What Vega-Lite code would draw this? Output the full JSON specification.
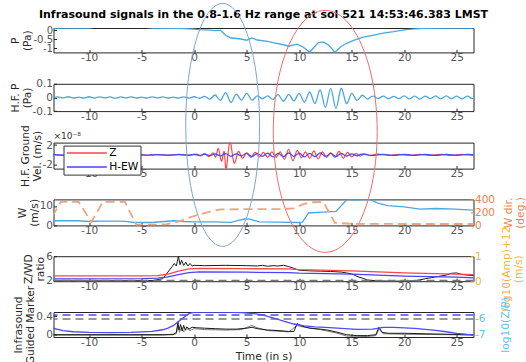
{
 "$schema": "https://vega.github.io/schema/vega-lite/v6.json",
 "padding": {"left": 8.5, "top": 0, "right": 0, "bottom": 0},
 "spacing": 30.8,
 "bounds": "flush",
 "resolve": {"scale": {"x": "independent", "y": "independent", "color": "independent"}},
 "datasets": {
  "p": [{"t":-13.5,"v":0.11},{"t":-12,"v":0.11},{"t":-10.5,"v":0.11},{"t":-10,"v":0.12},{"t":-9,"v":0.2},{"t":-7,"v":0.22},{"t":-5,"v":0.18},{"t":-4,"v":0.11},{"t":-2,"v":0.1},{"t":-1,"v":0.09},{"t":0,"v":0.06},{"t":0.5,"v":0.03},{"t":1,"v":0.02},{"t":1.5,"v":0.0},{"t":2,"v":-0.02},{"t":2.5,"v":0.0},{"t":3,"v":-0.28},{"t":3.5,"v":-0.43},{"t":4.3,"v":-0.47},{"t":5,"v":-0.55},{"t":5.5,"v":-0.43},{"t":6,"v":-0.54},{"t":7,"v":-0.62},{"t":7.5,"v":-0.68},{"t":8.5,"v":-0.8},{"t":9,"v":-0.88},{"t":9.8,"v":-0.77},{"t":10.3,"v":-0.9},{"t":11,"v":-1.2},{"t":11.4,"v":-0.95},{"t":11.8,"v":-0.7},{"t":12.3,"v":-0.64},{"t":12.8,"v":-0.82},{"t":13.4,"v":-1.21},{"t":14,"v":-0.9},{"t":14.5,"v":-0.72},{"t":15.2,"v":-0.56},{"t":16,"v":-0.4},{"t":17,"v":-0.28},{"t":18,"v":-0.16},{"t":19,"v":-0.08},{"t":20,"v":0.02},{"t":21,"v":0.07},{"t":22,"v":0.1},{"t":24,"v":0.11},{"t":27,"v":0.11}],
  "hfp": [{"t":-13.5,"v":-0.004},{"t":-13,"v":0.004},{"t":-12.5,"v":-0.003},{"t":-12,"v":0.005},{"t":-11.5,"v":-0.004},{"t":-11,"v":0.003},{"t":-10.5,"v":-0.004},{"t":-10,"v":0.005},{"t":-9.5,"v":-0.004},{"t":-9,"v":0.004},{"t":-8.5,"v":-0.003},{"t":-8,"v":0.004},{"t":-7.5,"v":-0.005},{"t":-7,"v":0.004},{"t":-6.5,"v":-0.003},{"t":-6,"v":0.004},{"t":-5.5,"v":-0.004},{"t":-5,"v":0.003},{"t":-4.5,"v":-0.004},{"t":-4,"v":0.004},{"t":-3.5,"v":-0.003},{"t":-3,"v":0.004},{"t":-2.5,"v":-0.004},{"t":-2,"v":0.003},{"t":-1.5,"v":-0.004},{"t":-1,"v":0.004},{"t":-0.5,"v":-0.004},{"t":0,"v":0.005},{"t":0.5,"v":-0.006},{"t":1,"v":0.008},{"t":1.5,"v":-0.012},{"t":2,"v":0.018},{"t":2.5,"v":-0.022},{"t":3,"v":0.035},{"t":3.5,"v":-0.037},{"t":4,"v":0.025},{"t":4.5,"v":-0.02},{"t":5,"v":0.03},{"t":5.5,"v":-0.02},{"t":6,"v":0.012},{"t":6.5,"v":-0.01},{"t":7,"v":0.012},{"t":7.5,"v":-0.014},{"t":8,"v":0.02},{"t":8.5,"v":-0.028},{"t":9,"v":0.022},{"t":9.5,"v":-0.025},{"t":10,"v":0.03},{"t":10.5,"v":-0.035},{"t":11,"v":0.04},{"t":11.5,"v":-0.045},{"t":12,"v":0.055},{"t":12.5,"v":-0.073},{"t":13,"v":0.066},{"t":13.5,"v":-0.08},{"t":14,"v":0.066},{"t":14.5,"v":-0.045},{"t":15,"v":0.03},{"t":15.5,"v":-0.022},{"t":16,"v":0.016},{"t":16.5,"v":-0.012},{"t":17,"v":0.01},{"t":17.5,"v":-0.008},{"t":18,"v":0.009},{"t":18.5,"v":-0.01},{"t":19,"v":0.008},{"t":19.5,"v":-0.009},{"t":20,"v":0.011},{"t":20.5,"v":-0.01},{"t":21,"v":0.009},{"t":21.5,"v":-0.012},{"t":22,"v":0.01},{"t":22.5,"v":-0.009},{"t":23,"v":0.011},{"t":23.5,"v":-0.01},{"t":24,"v":0.012},{"t":24.5,"v":-0.01},{"t":25,"v":0.009},{"t":25.5,"v":-0.011},{"t":26,"v":0.01},{"t":26.5,"v":-0.009},{"t":27,"v":0.005}],
  "gv": [{"c":"Z","t":-13.5,"v":0.08},{"c":"Z","t":-12.5,"v":-0.08},{"c":"Z","t":-11.5,"v":0.1},{"c":"Z","t":-10.5,"v":-0.06},{"c":"Z","t":-9.5,"v":0.08},{"c":"Z","t":-8.5,"v":-0.1},{"c":"Z","t":-7.5,"v":0.06},{"c":"Z","t":-6.5,"v":-0.08},{"c":"Z","t":-5.5,"v":0.1},{"c":"Z","t":-4.5,"v":-0.08},{"c":"Z","t":-3.5,"v":0.06},{"c":"Z","t":-2.5,"v":-0.1},{"c":"Z","t":-1.5,"v":0.08},{"c":"Z","t":-0.5,"v":-0.1},{"c":"Z","t":0.2,"v":0.15},{"c":"Z","t":0.6,"v":-0.2},{"c":"Z","t":1.0,"v":0.25},{"c":"Z","t":1.4,"v":-0.35},{"c":"Z","t":1.8,"v":0.4},{"c":"Z","t":2.05,"v":-0.45},{"c":"Z","t":2.3,"v":1.3},{"c":"Z","t":2.6,"v":-1.3},{"c":"Z","t":2.85,"v":0.7},{"c":"Z","t":3.05,"v":-2.9},{"c":"Z","t":3.4,"v":2.7},{"c":"Z","t":3.8,"v":-1.7},{"c":"Z","t":4.2,"v":0.7},{"c":"Z","t":4.6,"v":-0.7},{"c":"Z","t":5.0,"v":0.4},{"c":"Z","t":5.4,"v":-0.5},{"c":"Z","t":5.8,"v":0.5},{"c":"Z","t":6.2,"v":-0.4},{"c":"Z","t":6.6,"v":0.5},{"c":"Z","t":7.0,"v":-0.5},{"c":"Z","t":7.4,"v":0.6},{"c":"Z","t":7.8,"v":-0.5},{"c":"Z","t":8.2,"v":0.6},{"c":"Z","t":8.6,"v":-0.9},{"c":"Z","t":9.0,"v":1.1},{"c":"Z","t":9.4,"v":-1.2},{"c":"Z","t":9.8,"v":0.9},{"c":"Z","t":10.2,"v":-0.6},{"c":"Z","t":10.6,"v":0.6},{"c":"Z","t":11.0,"v":-0.7},{"c":"Z","t":11.4,"v":0.8},{"c":"Z","t":11.8,"v":-0.8},{"c":"Z","t":12.2,"v":0.6},{"c":"Z","t":12.6,"v":-0.5},{"c":"Z","t":13.0,"v":0.4},{"c":"Z","t":13.4,"v":-0.5},{"c":"Z","t":13.8,"v":0.7},{"c":"Z","t":14.2,"v":-0.7},{"c":"Z","t":14.6,"v":0.5},{"c":"Z","t":15.0,"v":-0.4},{"c":"Z","t":15.4,"v":0.3},{"c":"Z","t":15.8,"v":-0.25},{"c":"Z","t":16.2,"v":0.2},{"c":"Z","t":16.8,"v":-0.15},{"c":"Z","t":17.5,"v":0.15},{"c":"Z","t":18.5,"v":-0.12},{"c":"Z","t":19.5,"v":0.1},{"c":"Z","t":20.5,"v":-0.1},{"c":"Z","t":21.5,"v":0.12},{"c":"Z","t":22.5,"v":-0.1},{"c":"Z","t":23.5,"v":0.1},{"c":"Z","t":24.5,"v":-0.12},{"c":"Z","t":25.5,"v":0.1},{"c":"Z","t":26.5,"v":-0.1},{"c":"Z","t":27,"v":0.05},
   {"c":"H-EW","t":-13.5,"v":0.05},{"c":"H-EW","t":-12.5,"v":-0.05},{"c":"H-EW","t":-11.5,"v":0.06},{"c":"H-EW","t":-10.5,"v":-0.05},{"c":"H-EW","t":-9.5,"v":0.05},{"c":"H-EW","t":-8.5,"v":-0.06},{"c":"H-EW","t":-7.5,"v":0.05},{"c":"H-EW","t":-6.5,"v":-0.05},{"c":"H-EW","t":-5.5,"v":0.06},{"c":"H-EW","t":-4.5,"v":-0.05},{"c":"H-EW","t":-3.5,"v":0.05},{"c":"H-EW","t":-2.5,"v":-0.06},{"c":"H-EW","t":-1.5,"v":0.05},{"c":"H-EW","t":-0.5,"v":-0.06},{"c":"H-EW","t":0,"v":0.1},{"c":"H-EW","t":0.5,"v":-0.12},{"c":"H-EW","t":1.0,"v":0.15},{"c":"H-EW","t":1.5,"v":-0.15},{"c":"H-EW","t":2.0,"v":0.2},{"c":"H-EW","t":2.5,"v":-0.2},{"c":"H-EW","t":3.0,"v":0.25},{"c":"H-EW","t":3.5,"v":-0.3},{"c":"H-EW","t":4.0,"v":0.2},{"c":"H-EW","t":4.5,"v":-0.2},{"c":"H-EW","t":5.0,"v":0.3},{"c":"H-EW","t":5.5,"v":-0.35},{"c":"H-EW","t":6.0,"v":0.3},{"c":"H-EW","t":6.5,"v":-0.3},{"c":"H-EW","t":7.0,"v":0.35},{"c":"H-EW","t":7.5,"v":-0.4},{"c":"H-EW","t":8.0,"v":0.3},{"c":"H-EW","t":8.5,"v":-0.35},{"c":"H-EW","t":9.0,"v":0.4},{"c":"H-EW","t":9.5,"v":-0.3},{"c":"H-EW","t":10.0,"v":0.35},{"c":"H-EW","t":10.5,"v":-0.4},{"c":"H-EW","t":11.0,"v":0.3},{"c":"H-EW","t":11.5,"v":-0.35},{"c":"H-EW","t":12.0,"v":0.4},{"c":"H-EW","t":12.5,"v":-0.3},{"c":"H-EW","t":13.0,"v":0.3},{"c":"H-EW","t":13.5,"v":-0.35},{"c":"H-EW","t":14.0,"v":0.3},{"c":"H-EW","t":14.5,"v":-0.25},{"c":"H-EW","t":15.0,"v":0.2},{"c":"H-EW","t":15.5,"v":-0.2},{"c":"H-EW","t":16.0,"v":0.15},{"c":"H-EW","t":17,"v":-0.12},{"c":"H-EW","t":18,"v":0.12},{"c":"H-EW","t":19,"v":-0.1},{"c":"H-EW","t":20,"v":0.12},{"c":"H-EW","t":21,"v":-0.1},{"c":"H-EW","t":22,"v":0.1},{"c":"H-EW","t":23,"v":-0.12},{"c":"H-EW","t":24,"v":0.1},{"c":"H-EW","t":25,"v":-0.1},{"c":"H-EW","t":26,"v":0.1},{"c":"H-EW","t":27,"v":-0.05}],
  "w": [{"t":-13.5,"v":2.4},{"t":-12,"v":2.5},{"t":-11,"v":2.4},{"t":-10,"v":2.0},{"t":-9,"v":2.2},{"t":-7.5,"v":2.2},{"t":-6.5,"v":2.1},{"t":-5.8,"v":1.5},{"t":-4,"v":1.5},{"t":-2,"v":2.4},{"t":-1,"v":2.0},{"t":0,"v":1.8},{"t":2,"v":1.8},{"t":3.5,"v":1.6},{"t":4.2,"v":2.6},{"t":4.8,"v":3.3},{"t":5.3,"v":3.2},{"t":6.2,"v":1.8},{"t":8,"v":1.7},{"t":9.8,"v":1.5},{"t":10.3,"v":1.7},{"t":10.9,"v":6.4},{"t":12.2,"v":6.8},{"t":13.5,"v":7.2},{"t":14.6,"v":13.6},{"t":15.2,"v":13.0},{"t":16.6,"v":13.6},{"t":17.5,"v":11.5},{"t":18.4,"v":10.2},{"t":20,"v":9.6},{"t":21.5,"v":8.4},{"t":23,"v":8.7},{"t":24.8,"v":8.4},{"t":26.6,"v":7.9},{"t":27,"v":7.8}],
  "wd": [{"t":-13.5,"v":140},{"t":-12.7,"v":365},{"t":-11,"v":365},{"t":-9.8,"v":55},{"t":-8.7,"v":365},{"t":-6.6,"v":365},{"t":-5.5,"v":8},{"t":-2.7,"v":15},{"t":-1.5,"v":60},{"t":-0.5,"v":120},{"t":0.5,"v":170},{"t":1.5,"v":215},{"t":2.5,"v":250},{"t":5,"v":252},{"t":8,"v":255},{"t":9.6,"v":265},{"t":10.2,"v":320},{"t":11,"v":360},{"t":12.3,"v":365},{"t":13.4,"v":40},{"t":15,"v":25},{"t":20,"v":22},{"t":27,"v":22}],
  "ellb": [{"i":0,"t":6.23,"v":51.8},{"i":1,"t":6.11,"v":68.01},{"i":2,"t":5.76,"v":83.11},{"i":3,"t":5.2,"v":96.08},{"i":4,"t":4.47,"v":106.03},{"i":5,"t":3.62,"v":112.29},{"i":6,"t":2.71,"v":114.42},{"i":7,"t":1.8,"v":112.29},{"i":8,"t":0.95,"v":106.03},{"i":9,"t":0.22,"v":96.08},{"i":10,"t":-0.34,"v":83.11},{"i":11,"t":-0.69,"v":68.01},{"i":12,"t":-0.81,"v":51.8},{"i":13,"t":-0.69,"v":35.59},{"i":14,"t":-0.34,"v":20.49},{"i":15,"t":0.22,"v":7.52},{"i":16,"t":0.95,"v":-2.43},{"i":17,"t":1.8,"v":-8.69},{"i":18,"t":2.71,"v":-10.82},{"i":19,"t":3.62,"v":-8.69},{"i":20,"t":4.47,"v":-2.43},{"i":21,"t":5.2,"v":7.52},{"i":22,"t":5.76,"v":20.49},{"i":23,"t":6.11,"v":35.59}],
  "ellr": [{"i":0,"t":17.43,"v":48.45},{"i":1,"t":17.26,"v":64.59},{"i":2,"t":16.77,"v":79.63},{"i":3,"t":15.98,"v":92.55},{"i":4,"t":14.96,"v":102.45},{"i":5,"t":13.76,"v":108.69},{"i":6,"t":12.48,"v":110.81},{"i":7,"t":11.2,"v":108.69},{"i":8,"t":10.01,"v":102.45},{"i":9,"t":8.98,"v":92.55},{"i":10,"t":8.19,"v":79.63},{"i":11,"t":7.7,"v":64.59},{"i":12,"t":7.53,"v":48.45},{"i":13,"t":7.7,"v":32.31},{"i":14,"t":8.19,"v":17.27},{"i":15,"t":8.98,"v":4.35},{"i":16,"t":10.01,"v":-5.55},{"i":17,"t":11.2,"v":-11.79},{"i":18,"t":12.48,"v":-13.91},{"i":19,"t":13.76,"v":-11.79},{"i":20,"t":14.96,"v":-5.55},{"i":21,"t":15.98,"v":4.35},{"i":22,"t":16.77,"v":17.27},{"i":23,"t":17.26,"v":32.31}],
  "ratio": [{"t":-13.5,"v":1.95},{"t":-10,"v":1.95},{"t":-6,"v":1.97},{"t":-4,"v":2.0},{"t":-3,"v":2.3},{"t":-2.5,"v":3.4},{"t":-2.1,"v":4.3},{"t":-1.9,"v":4.8},{"t":-1.7,"v":4.4},{"t":-1.5,"v":6.0},{"t":-1.35,"v":4.6},{"t":-1.2,"v":5.3},{"t":-1.0,"v":4.5},{"t":-0.8,"v":5.0},{"t":-0.6,"v":4.4},{"t":-0.4,"v":4.8},{"t":-0.2,"v":4.4},{"t":0,"v":4.5},{"t":1,"v":4.45},{"t":3,"v":4.5},{"t":5,"v":4.45},{"t":6,"v":4.4},{"t":6.5,"v":4.5},{"t":7,"v":4.35},{"t":7.5,"v":4.45},{"t":8,"v":4.4},{"t":8.5,"v":4.5},{"t":9,"v":4.3},{"t":9.5,"v":4.0},{"t":10,"v":3.7},{"t":11,"v":3.6},{"t":12,"v":3.55},{"t":13,"v":3.5},{"t":14,"v":3.4},{"t":15,"v":3.1},{"t":15.5,"v":2.7},{"t":16,"v":2.4},{"t":16.5,"v":2.1},{"t":17.5,"v":1.95},{"t":19,"v":1.9},{"t":21,"v":1.95},{"t":22,"v":2.3},{"t":23,"v":2.6},{"t":24,"v":2.9},{"t":24.5,"v":3.2},{"t":25,"v":3.25},{"t":25.5,"v":3.0},{"t":26,"v":2.9},{"t":27,"v":2.8}],
  "ampz": [{"t":-13.5,"v":0.21},{"t":-5,"v":0.21},{"t":-3.5,"v":0.22},{"t":-2.5,"v":0.28},{"t":-1.5,"v":0.4},{"t":-0.5,"v":0.49},{"t":0.5,"v":0.51},{"t":5,"v":0.5},{"t":9,"v":0.49},{"t":10,"v":0.46},{"t":15,"v":0.41},{"t":20,"v":0.33},{"t":25,"v":0.28},{"t":27,"v":0.26}],
  "ampw": [{"t":-13.5,"v":0.09},{"t":-5,"v":0.1},{"t":-3.5,"v":0.12},{"t":-2.5,"v":0.17},{"t":-1.5,"v":0.26},{"t":-0.5,"v":0.34},{"t":0.5,"v":0.37},{"t":5,"v":0.36},{"t":9,"v":0.34},{"t":10,"v":0.32},{"t":15,"v":0.28},{"t":20,"v":0.2},{"t":25,"v":0.16},{"t":27,"v":0.13}],
  "zp": [{"t":-13.5,"v":-6.6},{"t":-12.5,"v":-6.75},{"t":-11.5,"v":-6.82},{"t":-10,"v":-6.86},{"t":-8,"v":-6.87},{"t":-6,"v":-6.86},{"t":-4,"v":-6.8},{"t":-3,"v":-6.7},{"t":-2.5,"v":-6.6},{"t":-2,"v":-6.45},{"t":-1.5,"v":-6.2},{"t":-1,"v":-5.95},{"t":-0.5,"v":-5.72},{"t":0,"v":-5.63},{"t":1,"v":-5.62},{"t":3,"v":-5.62},{"t":4.5,"v":-5.65},{"t":5.5,"v":-5.7},{"t":6.5,"v":-5.8},{"t":7.5,"v":-5.97},{"t":8.5,"v":-6.18},{"t":9.5,"v":-6.35},{"t":10.5,"v":-6.46},{"t":11.5,"v":-6.52},{"t":12.5,"v":-6.56},{"t":14,"v":-6.62},{"t":15.5,"v":-6.68},{"t":17,"v":-6.66},{"t":18,"v":-6.56},{"t":19,"v":-6.55},{"t":20,"v":-6.58},{"t":21,"v":-6.62},{"t":22,"v":-6.68},{"t":23,"v":-6.74},{"t":24,"v":-6.82},{"t":25,"v":-6.92},{"t":26,"v":-6.98},{"t":27,"v":-7.02}],
  "gm1": [{"t":-13.5,"v":0.0},{"t":-3,"v":0.0},{"t":-2,"v":0.0},{"t":-1.7,"v":0.05},{"t":-1.55,"v":0.28},{"t":-1.45,"v":0.1},{"t":-1.3,"v":0.22},{"t":-1.15,"v":0.08},{"t":-1.0,"v":0.2},{"t":-0.85,"v":0.1},{"t":-0.7,"v":0.17},{"t":-0.5,"v":0.12},{"t":-0.2,"v":0.16},{"t":0.2,"v":0.15},{"t":1,"v":0.14},{"t":2,"v":0.13},{"t":3,"v":0.12},{"t":4,"v":0.12},{"t":5,"v":0.14},{"t":5.5,"v":0.16},{"t":6,"v":0.13},{"t":7,"v":0.1},{"t":8,"v":0.09},{"t":9,"v":0.07},{"t":9.5,"v":0.07},{"t":9.8,"v":0.24},{"t":10.2,"v":0.19},{"t":11,"v":0.14},{"t":12,"v":0.12},{"t":12.7,"v":0.1},{"t":13.5,"v":0.06},{"t":14.5,"v":0.0},{"t":15.5,"v":-0.02},{"t":16.5,"v":-0.02},{"t":17.3,"v":0.0},{"t":17.6,"v":0.16},{"t":17.9,"v":0.05},{"t":18.5,"v":0.03},{"t":20,"v":0.03},{"t":22,"v":0.02},{"t":24,"v":0.01},{"t":26,"v":0.0},{"t":27,"v":0.0}],
  "gm2": [{"t":-13.5,"v":-0.01},{"t":-3,"v":-0.01},{"t":-1.7,"v":0.02},{"t":-1.55,"v":0.2},{"t":-1.4,"v":0.05},{"t":-1.2,"v":0.17},{"t":-1.0,"v":0.06},{"t":-0.7,"v":0.13},{"t":-0.4,"v":0.09},{"t":0,"v":0.13},{"t":1,"v":0.11},{"t":3,"v":0.1},{"t":4.5,"v":0.11},{"t":5.5,"v":0.2},{"t":6,"v":0.15},{"t":7,"v":0.09},{"t":9,"v":0.06},{"t":9.8,"v":0.2},{"t":10.3,"v":0.17},{"t":12,"v":0.11},{"t":13.5,"v":0.04},{"t":14.5,"v":-0.03},{"t":16.5,"v":-0.04},{"t":17.3,"v":-0.02},{"t":17.6,"v":0.12},{"t":18,"v":0.02},{"t":20,"v":0.01},{"t":24,"v":0.0},{"t":27,"v":-0.01}]
 },
 "vconcat": [
  {
   "width": 420, "height": 24.4,
   "title": {"text": "Infrasound signals in the 0.8-1.6 Hz range at sol 521 14:53:46.383 LMST", "font": "DejaVu Sans", "fontSize": 11, "fontWeight": "bold", "color": "#000000", "anchor": "middle", "frame": "group", "offset": 5},
   "data": {"name": "p"},
   "mark": {"type": "line", "color": "#4aa8e0", "strokeWidth": 1.3, "clip": true},
   "encoding": {
    "x": {"field": "t", "type": "quantitative", "scale": {"domain": [-13.4, 26.6], "nice": false, "zero": false}, "axis": {"values": [-10,-5,0,5,10,15,20,25], "title": null, "labelFlush": false}},
    "y": {"field": "v", "type": "quantitative", "scale": {"domain": [-1.22, 0.12], "nice": false, "zero": false}, "axis": {"values": [-1,-0.5,0], "format": ".2~f", "labelFontSize": 10, "title": ["P", "(Pa)"]}}
   }
  },
  {
   "width": 420, "height": 27.3,
   "data": {"name": "hfp"},
   "mark": {"type": "line", "color": "#4aa8e0", "strokeWidth": 1.3, "clip": true, "interpolate": "cardinal"},
   "encoding": {
    "x": {"field": "t", "type": "quantitative", "scale": {"domain": [-13.4, 26.6], "nice": false, "zero": false}, "axis": {"values": [-10,-5,0,5,10,15,20,25], "title": null, "labelFlush": false}},
    "y": {"field": "v", "type": "quantitative", "scale": {"domain": [-0.1, 0.1], "nice": false, "zero": false}, "axis": {"values": [-0.1,0,0.1], "format": ".2~f", "title": ["H.F. P", "(Pa)"]}}
   }
  },
  {
   "width": 420, "height": 26,
   "layer": [
    {"data": {"name": "gv"},
     "mark": {"type": "line", "strokeWidth": 1.2, "clip": true, "interpolate": "cardinal"},
     "encoding": {
      "x": {"field": "t", "type": "quantitative", "scale": {"domain": [-13.4, 26.6], "nice": false, "zero": false}, "axis": {"values": [-10,-5,0,5,10,15,20,25], "title": null, "labelFlush": false}},
      "y": {"field": "v", "type": "quantitative", "scale": {"domain": [-2.8, 2.5], "nice": false, "zero": false}, "axis": {"values": [-2,0,2], "format": ".2~f", "title": ["H.F. Ground", "Vel. (m/s)"]}},
      "color": {"field": "c", "type": "nominal", "scale": {"domain": ["Z", "H-EW"], "range": ["#ff4545", "#4545ff"]}, "legend": {"orient": "none", "legendX": 10, "legendY": 3, "title": null, "fillColor": "white", "strokeColor": "#333333", "padding": 2, "symbolType": "M-1,0L9,0", "symbolSize": 64, "symbolStrokeWidth": 1.5, "labelOffset": 33, "labelFontSize": 10.7, "labelFont": "DejaVu Sans", "labelColor": "#000000", "rowPadding": 2}}
     }},
    {"data": {"values": [{"note": "×10⁻⁸"}]},
     "mark": {"type": "text", "font": "DejaVu Sans", "fontSize": 9, "color": "#333333", "align": "left", "baseline": "bottom", "dy": -2, "clip": false},
     "encoding": {"x": {"datum": -13.4, "type": "quantitative"}, "y": {"datum": 2.5, "type": "quantitative"}, "text": {"field": "note", "type": "nominal"}}}
   ]
  },
  {
   "width": 420, "height": 26,
   "layer": [
    {"layer": [
     {"data": {"name": "w"}, "mark": {"type": "line", "color": "#4aa8e0", "strokeWidth": 1.3, "clip": true},
      "encoding": {
       "x": {"field": "t", "type": "quantitative", "scale": {"domain": [-13.4, 26.6], "nice": false, "zero": false}, "axis": {"values": [-10,-5,0,5,10,15,20,25], "title": null, "labelFlush": false}},
       "y": {"field": "v", "type": "quantitative", "scale": {"domain": [0, 13.4], "nice": false, "zero": false}, "axis": {"values": [0,5,10], "format": ".2~f", "title": ["W", "(m/s)"]}}
      }},
     {"data": {"name": "ellb"}, "mark": {"type": "line", "color": "#7ea3d6", "strokeWidth": 1, "clip": false, "interpolate": "cardinal-closed"},
      "encoding": {
       "x": {"field": "t", "type": "quantitative", "scale": {"domain": [-13.4, 26.6], "nice": false, "zero": false}, "axis": {"values": [-10,-5,0,5,10,15,20,25], "title": null, "labelFlush": false}},
       "y": {"field": "v", "type": "quantitative"},
       "order": {"field": "i", "type": "quantitative"}
      }},
     {"data": {"name": "ellr"}, "mark": {"type": "line", "color": "#f26b6b", "strokeWidth": 1, "clip": false, "interpolate": "cardinal-closed"},
      "encoding": {
       "x": {"field": "t", "type": "quantitative", "scale": {"domain": [-13.4, 26.6], "nice": false, "zero": false}, "axis": {"values": [-10,-5,0,5,10,15,20,25], "title": null, "labelFlush": false}},
       "y": {"field": "v", "type": "quantitative"},
       "order": {"field": "i", "type": "quantitative"}
      }}
    ]},
    {"data": {"name": "wd"}, "mark": {"type": "line", "color": "#f0a47e", "strokeWidth": 1.8, "strokeDash": [9, 5], "clip": true},
     "encoding": {
      "x": {"field": "t", "type": "quantitative", "scale": {"domain": [-13.4, 26.6], "nice": false, "zero": false}, "axis": {"values": [-10,-5,0,5,10,15,20,25], "title": null, "labelFlush": false}},
      "y": {"field": "v", "type": "quantitative", "scale": {"domain": [0, 405], "nice": false, "zero": false}, "axis": {"orient": "right", "values": [0,200,400], "format": ".2~f", "title": ["W dir.", "(deg.)"], "titleX": 30, "labelColor": "#e8844d", "titleColor": "#e8844d", "tickColor": "#e8844d"}}
     }}
   ],
   "resolve": {"scale": {"y": "independent"}}
  },
  {
   "width": 420, "height": 25,
   "layer": [
    {"layer": [
     {"data": {"name": "ratio"}, "mark": {"type": "line", "color": "#1a1a1a", "strokeWidth": 1, "clip": true},
      "encoding": {
       "x": {"field": "t", "type": "quantitative", "scale": {"domain": [-13.4, 26.6], "nice": false, "zero": false}, "axis": {"values": [-10,-5,0,5,10,15,20,25], "title": null, "labelFlush": false}},
       "y": {"field": "v", "type": "quantitative", "scale": {"domain": [1.9, 6], "nice": false, "zero": false}, "axis": {"values": [2,4,6], "format": ".2~f", "title": ["Z/WD", "ratio"]}}
      }},
     {"data": {"values": [{"v": 2}]}, "mark": {"type": "rule", "color": "#777777", "strokeWidth": 1.5, "strokeDash": [8, 5]},
      "encoding": {"y": {"field": "v", "type": "quantitative"}}}
    ]},
    {"layer": [
     {"data": {"name": "ampz"}, "mark": {"type": "line", "color": "#ff4545", "strokeWidth": 1.3, "clip": true},
      "encoding": {
       "x": {"field": "t", "type": "quantitative", "scale": {"domain": [-13.4, 26.6], "nice": false, "zero": false}, "axis": {"values": [-10,-5,0,5,10,15,20,25], "title": null, "labelFlush": false}},
       "y": {"field": "v", "type": "quantitative", "scale": {"domain": [0, 1], "nice": false, "zero": false}, "axis": {"orient": "right", "values": [0,0.5,1], "format": ".2~f", "title": ["log10(Amp)+12", "(m/s)"], "titleX": 28, "labelColor": "#f0b73a", "titleColor": "#f0b73a", "tickColor": "#f0b73a"}}
      }},
     {"data": {"name": "ampw"}, "mark": {"type": "line", "color": "#4545ff", "strokeWidth": 1.3, "clip": true},
      "encoding": {
       "x": {"field": "t", "type": "quantitative", "scale": {"domain": [-13.4, 26.6], "nice": false, "zero": false}, "axis": {"values": [-10,-5,0,5,10,15,20,25], "title": null, "labelFlush": false}},
       "y": {"field": "v", "type": "quantitative"}
      }}
    ]}
   ],
   "resolve": {"scale": {"y": "independent"}}
  },
  {
   "width": 420, "height": 25,
   "layer": [
    {"layer": [
     {"data": {"name": "gm2"}, "mark": {"type": "line", "color": "#7a7a7a", "strokeWidth": 1, "clip": true},
      "encoding": {
       "x": {"field": "t", "type": "quantitative", "scale": {"domain": [-13.4, 26.6], "nice": false, "zero": false}, "axis": {"values": [-10,-5,0,5,10,15,20,25], "title": "Time (in s)", "labelFlush": false}},
       "y": {"field": "v", "type": "quantitative", "scale": {"domain": [-0.05, 0.49], "nice": false, "zero": false}, "axis": {"values": [0,0.2,0.4], "format": ".2~f", "title": ["Infrasound", "Guided Marker"]}}
      }},
     {"data": {"name": "gm1"}, "mark": {"type": "line", "color": "#1a1a1a", "strokeWidth": 1, "clip": true},
      "encoding": {
       "x": {"field": "t", "type": "quantitative", "scale": {"domain": [-13.4, 26.6], "nice": false, "zero": false}, "axis": {"values": [-10,-5,0,5,10,15,20,25], "title": "Time (in s)", "labelFlush": false}},
       "y": {"field": "v", "type": "quantitative"}
      }},
     {"data": {"values": [{"v": 0.34}]}, "mark": {"type": "rule", "color": "#777777", "strokeWidth": 1.5, "strokeDash": [8, 5]},
      "encoding": {"y": {"field": "v", "type": "quantitative"}}}
    ]},
    {"layer": [
     {"data": {"name": "zp"}, "mark": {"type": "line", "color": "#4a4aff", "strokeWidth": 1.3, "clip": true},
      "encoding": {
       "x": {"field": "t", "type": "quantitative", "scale": {"domain": [-13.4, 26.6], "nice": false, "zero": false}, "axis": {"values": [-10,-5,0,5,10,15,20,25], "title": "Time (in s)", "labelFlush": false}},
       "y": {"field": "v", "type": "quantitative", "scale": {"domain": [-7.14, -5.62], "nice": false, "zero": false}, "axis": {"orient": "right", "values": [-7,-6.5,-6], "format": ".2~f", "title": "log10(Z/P)", "titleX": 27, "labelColor": "#5bc3ef", "titleColor": "#5bc3ef", "tickColor": "#5bc3ef"}}
      }},
     {"data": {"values": [{"v": -5.8}]}, "mark": {"type": "rule", "color": "#4a4aff", "strokeWidth": 1.5, "strokeDash": [8, 5]},
      "encoding": {"y": {"field": "v", "type": "quantitative"}}}
    ]}
   ],
   "resolve": {"scale": {"y": "independent"}}
  }
 ],
 "config": {
  "font": "DejaVu Sans",
  "locale": {"number": {"decimal": ".", "thousands": ",", "grouping": [3], "currency": ["$", ""], "minus": "-"}},
  "view": {"stroke": "#262626", "strokeWidth": 1},
  "axis": {"labelFont": "DejaVu Sans", "labelFontSize": 10.5, "labelColor": "#555555", "titleFont": "DejaVu Sans", "titleFontSize": 10.7, "titleFontWeight": "normal", "titleColor": "#262626", "tickColor": "#262626", "tickSize": -3, "domain": false, "grid": false, "labelPadding": 3, "titleLineHeight": 12, "labelOverlap": false},
  "axisLeft": {"titlePadding": 0, "labelPadding": 4},
  "axisRight": {"labelPadding": 4, "titleAngle": -90, "titleBaseline": "top"}
 }
}
